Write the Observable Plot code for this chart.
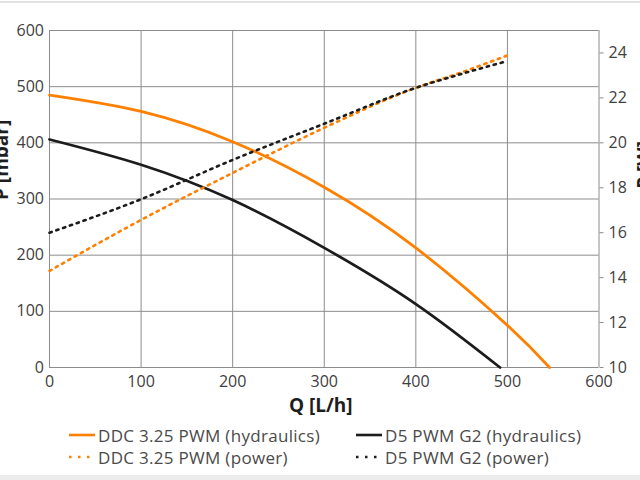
<!DOCTYPE html>
<html>
<head>
<meta charset="utf-8">
<script src="https://cdn.jsdelivr.net/npm/d3@7"></script>
<script src="https://cdn.jsdelivr.net/npm/@observablehq/plot@0.6"></script>
<style>
  html, body { margin: 0; padding: 0; background: #fff; }
  #wrap { position: relative; width: 640px; height: 480px; overflow: hidden; font-family: "Open Sans", sans-serif; }
  #topline { position: absolute; left: 0; top: 1px; width: 640px; height: 2px; background: #e2e2e2; }
  #botband { position: absolute; left: 0; top: 475px; width: 640px; height: 5px; background: #ececec; }
  .item { position: absolute; height: 22px; display: flex; align-items: center; font-size: 17px; letter-spacing: 0.3px; color: #4a4a4a; white-space: nowrap; }
  .item svg { margin-right: 3px; }
</style>
</head>
<body>
<div id="wrap">
  <div id="chart"></div>
  <div id="legend"></div>
  <div id="topline"></div>
  <div id="botband"></div>
</div>
<script>
// ---- data ----
const qTicks = [0, 100, 200, 300, 400, 500, 600];
const pTicks = [0, 100, 200, 300, 400, 500, 600];
const wTicks = [10, 12, 14, 16, 18, 20, 22, 24];

const ddcHydQ = [0, 100, 200, 300, 400, 500, 546];
const ddcHydP = [485, 456, 402, 321, 213, 75, 0];

const d5HydQ = [0, 100, 200, 300, 400, 492];
const d5HydP = [406, 361, 298, 213, 113, 0];

const ddcPowQ = [0, 100, 200, 300, 400, 450, 502];
const ddcPowW = [14.3, 16.57, 18.66, 20.67, 22.45, 23.14, 23.92];

const d5PowQ = [0, 100, 200, 300, 400, 450, 499];
const d5PowW = [16.0, 17.49, 19.24, 20.85, 22.45, 23.07, 23.63];

const seriesNames = ["DDC 3.25 PWM (hydraulics)", "D5 PWM G2 (hydraulics)", "DDC 3.25 PWM (power)", "D5 PWM G2 (power)"];
const seriesColors = ["#ff8000", "#1c1c1c", "#ff8000", "#1c1c1c"];
const seriesDash = [null, null, "2.3,4.9", "2.3,4.9"];

// right axis (W, 10..25) mapped onto the left scale (0..600)
const wMin = 10, wMax = 25, pMax = 600;
const toP = w => (w - wMin) * pMax / (wMax - wMin);
const toW = p => p * (wMax - wMin) / pMax + wMin;

const idx = a => a.map((_, i) => i);
const grid = "#8c8c8c";

const chart = Plot.plot({
  width: 640,
  height: 412,
  marginLeft: 49,
  marginRight: 41.5,
  marginTop: 30,
  marginBottom: 45,
  x: { domain: [0, 600] },
  y: { domain: [0, 600] },
  style: { fontFamily: "Open Sans, sans-serif", fontSize: "16px", color: "#404040", background: "white", overflow: "visible" },
  marks: [
    Plot.gridX(qTicks, { stroke: grid, strokeOpacity: 1, strokeWidth: 1 }),
    Plot.gridY(pTicks, { stroke: grid, strokeOpacity: 1, strokeWidth: 1 }),
    Plot.axisX(qTicks, { tickSize: 0, tickPadding: 8, label: null, fontSize: 16 }),
    Plot.axisY(pTicks, { anchor: "left", tickSize: 0, tickPadding: 5.5, label: null, fontSize: 16 }),
    Plot.axisY(wTicks.map(toP), { anchor: "right", tickSize: 4, tickPadding: 5.5, stroke: grid, label: null, fontSize: 16, tickFormat: d => String(Math.round(toW(d))) }),
    Plot.line(idx(ddcHydQ), { x: i => ddcHydQ[i], y: i => ddcHydP[i], stroke: seriesColors[0], strokeWidth: 2.75, curve: "natural" }),
    Plot.line(idx(d5HydQ), { x: i => d5HydQ[i], y: i => d5HydP[i], stroke: seriesColors[1], strokeWidth: 2.75, curve: "natural" }),
    Plot.line(idx(ddcPowQ), { x: i => ddcPowQ[i], y: i => toP(ddcPowW[i]), stroke: seriesColors[2], strokeWidth: 2.6, strokeDasharray: seriesDash[2], curve: "monotone-x" }),
    Plot.line(idx(d5PowQ), { x: i => d5PowQ[i], y: i => toP(d5PowW[i]), stroke: seriesColors[3], strokeWidth: 2.6, strokeDasharray: seriesDash[3], curve: "monotone-x" }),
    Plot.text(["Q [L/h]"], { text: d => d, frameAnchor: "bottom", dx: -3.5, dy: 38, lineAnchor: "middle", fontSize: 19, fontWeight: "bold", fill: "#1e1e1e" }),
    Plot.text(["P [mbar]"], { text: d => d, frameAnchor: "left", dx: -48, dy: 1, rotate: -90, lineAnchor: "middle", fontSize: 19, fontWeight: "bold", fill: "#1e1e1e" }),
    Plot.text(["P [W]"], { text: d => d, frameAnchor: "right", dx: 45.5, dy: -58, rotate: -90, lineAnchor: "middle", fontSize: 19, fontWeight: "bold", fill: "#1e1e1e" })
  ]
});
document.getElementById("chart").appendChild(chart);

// legend below the SVG
const legendPos = [
  { left: 69, top: 435 },
  { left: 356, top: 435 },
  { left: 69, top: 457 },
  { left: 356, top: 457 }
];
const legend = document.getElementById("legend");
seriesNames.forEach((name, i) => {
  const div = document.createElement("div");
  div.className = "item";
  div.style.left = legendPos[i].left + "px";
  div.style.top = (legendPos[i].top - 11) + "px";
  const dash = seriesDash[i] ? ' stroke-dasharray="2.5,6.5"' : "";
  div.innerHTML = `<svg width="26" height="6"><line x1="0" y1="3" x2="26" y2="3" stroke="${seriesColors[i]}" stroke-width="2.6"${dash}/></svg><span>${name}</span>`;
  legend.appendChild(div);
});
</script>
</body>
</html>
